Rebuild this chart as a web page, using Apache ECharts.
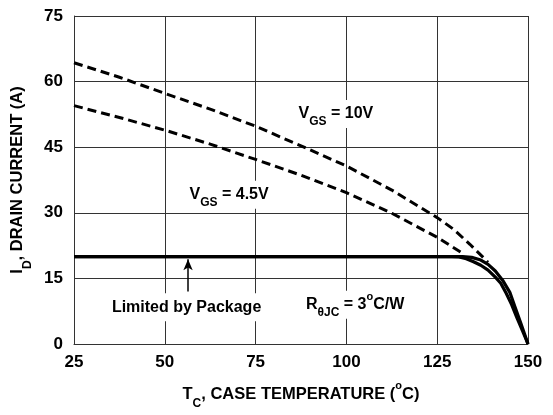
<!DOCTYPE html>
<html>
<head>
<meta charset="utf-8">
<script src="https://cdn.jsdelivr.net/npm/echarts@6/dist/echarts.min.js"></script>
<style>html,body{margin:0;padding:0;background:#fff;}#c{width:553px;height:415px;}</style>
</head>
<body>
<div id="c"></div>
<script>
// Data
var vgs10Dashed = [[25,64.3],[37.5,61.0],[50,57.3],[62.5,53.7],[75,49.8],[87.5,45.3],[100,40.7],[112.5,35.2],[125,28.9],[129.4,26.3],[134,22.8],[139,18.7]];
var vgs45Dashed = [[25,54.5],[37.5,51.8],[50,48.9],[62.5,45.7],[75,42.2],[87.5,38.6],[100,34.6],[112.5,29.9],[125,24.4],[132.2,20.6]];
var limit10 = [[25,20],[132,20],[134.5,19.8],[137,19.2],[139,18.2],[141,16.7],[143,14.6],[145,11.8],[146.5,8.3],[148,4.8],[150,0]];
var limit45 = [[25,20],[129,20],[131,19.9],[133,19.5],[135,18.8],[137,18.0],[139,16.9],[141,15.3],[142.5,13.9],[144,11.6],[145.5,9.0],[147,5.9],[148.5,3.0],[150,0]];
var xTicks = {min:25, max:150, interval:25};
var yTicks = {min:0, max:75, interval:15};
var annotations = [
  {value:[97.1,52.6], text:'{m|V}{s|GS}{m| = 10V}'},
  {value:[67.7,34.1], text:'{m|V}{s|GS}{m| = 4.5V}'},
  {value:[56,8.4], text:'{m|Limited by Package}'},
  {value:[102.4,9.0], text:'{n|R}{s|θJC}{n| = 3}{p|o}{n|C/W}'}
];
var arrowFrom = [56.4,12];
var arrowTo = [56.4,19.4];

var font = '"Liberation Sans", Arial, sans-serif';
var chart = echarts.init(document.getElementById('c'), null, {renderer:'canvas'});
var gridColor = '#333';
chart.setOption({
  backgroundColor:'#fff',
  animation:false,
  grid:{left:74, right:25, top:16, bottom:67, containLabel:false},
  xAxis:{
    type:'value', min:xTicks.min, max:xTicks.max, interval:xTicks.interval,
    axisLine:{show:true, lineStyle:{color:gridColor, width:1}},
    axisTick:{show:false},
    splitLine:{show:true, lineStyle:{color:gridColor, width:1}},
    axisLabel:{color:'#000', fontFamily:font, fontWeight:'bold', fontSize:17, margin:10},
    name:'{t|T}{ts|C}{t|, CASE TEMPERATURE (}{tp|o}{t|C)}',
    nameLocation:'middle', nameGap:42,
    nameTextStyle:{rich:{
      t:{fontFamily:font, fontWeight:'bold', fontSize:16.5, color:'#000'},
      ts:{fontFamily:font, fontWeight:'bold', fontSize:12, color:'#000', verticalAlign:'bottom', padding:[0,0,-7,0]},
      tp:{fontFamily:font, fontWeight:'bold', fontSize:11, color:'#000', verticalAlign:'top', padding:[-6,0,0,0]}
    }}
  },
  yAxis:{
    type:'value', min:yTicks.min, max:yTicks.max, interval:yTicks.interval,
    axisLine:{show:true, lineStyle:{color:gridColor, width:1}},
    axisTick:{show:false},
    splitLine:{show:true, lineStyle:{color:gridColor, width:1}},
    axisLabel:{color:'#000', fontFamily:font, fontWeight:'bold', fontSize:17, margin:11},
    name:'{t|I}{ts|D}{t|, DRAIN CURRENT (A)}',
    nameLocation:'middle', nameGap:46, nameRotate:90,
    nameTextStyle:{rich:{
      t:{fontFamily:font, fontWeight:'bold', fontSize:16.5, color:'#000'},
      ts:{fontFamily:font, fontWeight:'bold', fontSize:12, color:'#000', verticalAlign:'bottom', padding:[0,0,-7,0]}
    }}
  },
  series:[
    {type:'line', data:vgs10Dashed, symbol:'none', z:3,
      lineStyle:{color:'#000', width:3, type:[9,5]}},
    {type:'line', data:vgs45Dashed, symbol:'none', z:3,
      lineStyle:{color:'#000', width:3, type:[9,5]}},
    {type:'line', data:limit10, symbol:'none', z:4,
      lineStyle:{color:'#000', width:3.2, join:'round'}},
    {type:'line', data:limit45, symbol:'none', z:4,
      lineStyle:{color:'#000', width:3.2, join:'round'},
      markLine:{silent:true, symbol:['none','arrow'], symbolSize:[7,11], label:{show:false},
        lineStyle:{color:'#000', width:1.5, type:'solid', opacity:1},
        data:[[{coord:arrowFrom},{coord:arrowTo}]]}
    },
    {type:'scatter', data:annotations.map(function(a){return {value:a.value, label:{formatter:a.text}};}),
      symbolSize:0, z:5, silent:true,
      itemStyle:{opacity:1, color:'#000'},
      label:{show:true, position:'inside', color:'#000', opacity:1, fontWeight:'bold', backgroundColor:'#fff', padding:[6,3],
        rich:{
          m:{fontFamily:font, fontWeight:'bold', fontSize:16, color:'#000'},
          n:{fontFamily:font, fontSize:16, color:'#000'},
          s:{fontFamily:font, fontWeight:'bold', fontSize:12, color:'#000', verticalAlign:'bottom', padding:[0,0,-6,0]},
          p:{fontFamily:font, fontSize:11, color:'#000', verticalAlign:'top', padding:[-5,0,0,0]}
        }}
    }
  ]
});
</script>
</body>
</html>
